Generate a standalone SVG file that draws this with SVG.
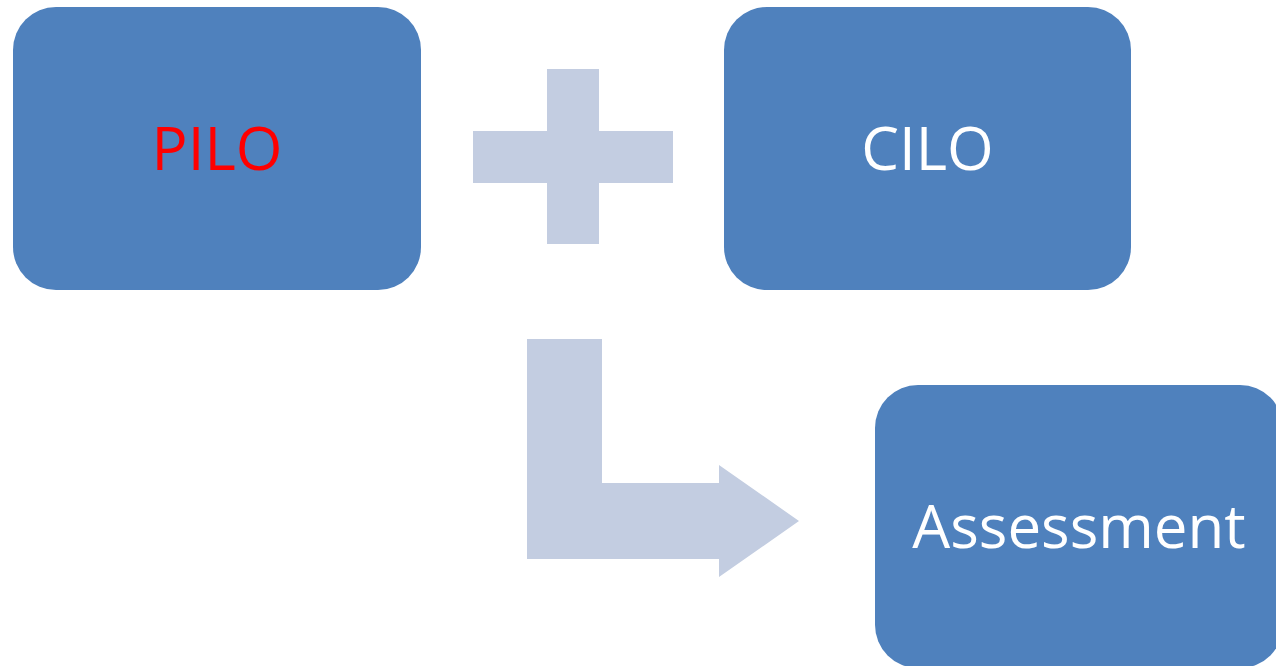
<svg xmlns="http://www.w3.org/2000/svg" width="1276" height="666" viewBox="0 0 1276 666">
  <style>
    .box { fill: #4F81BD; }
    .lbl { font-family: "Open Sans", "Liberation Sans", sans-serif; font-size: 60px; text-anchor: middle; fill: #FFFFFF; }
    .op { fill: #C3CDE1; }
  </style>
  <rect width="1276" height="666" fill="#FFFFFF"/>
  <g id="pilo">
    <rect class="box" x="13" y="7" width="408" height="283" rx="43" ry="43"/>
    <text class="lbl" x="217" y="170" style="fill:#FF0000">PILO</text>
  </g>
  <g id="cilo">
    <rect class="box" x="724" y="7" width="407" height="283" rx="43" ry="43"/>
    <text class="lbl" x="927.5" y="170">CILO</text>
  </g>
  <g id="assessment">
    <rect class="box" x="875" y="385" width="408" height="283" rx="43" ry="43"/>
    <text class="lbl" x="1079" y="548">Assessment</text>
  </g>
  <g id="connectors">
    <!-- plus sign between the two outcome boxes -->
    <path class="op" d="M547 69 H599 V131 H673 V183 H599 V244 H547 V183 H473 V131 H547 Z"/>
    <!-- bent arrow leading to assessment -->
    <path class="op" d="M527 339 H602 V483 H719 V465 L799 521 L719 577 V559 H527 Z"/>
  </g>
</svg>
